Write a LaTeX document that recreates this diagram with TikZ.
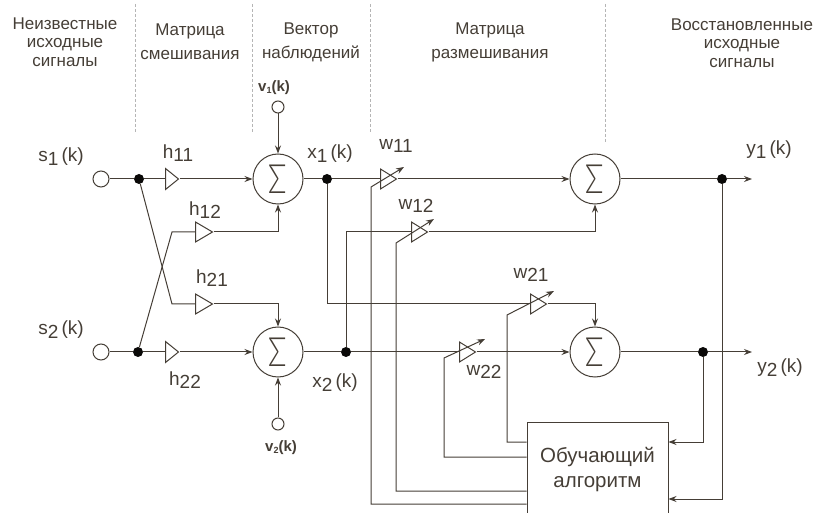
\documentclass[tikz,border=0pt]{standalone}
\usepackage{fontspec}
\setmainfont{Liberation Sans}
\newfontfamily\sigmafont{Lato Light}
\usetikzlibrary{arrows.meta,shapes.geometric}
\definecolor{ink}{HTML}{453E36}
\definecolor{sepgray}{HTML}{B5B5B5}
\newcommand{\sig}[2]{#1\raisebox{-3.5pt}{#2}}
\newcommand{\sigk}[2]{#1\raisebox{-3.5pt}{#2}\,(k)}
\newcommand{\sumsym}{\scalebox{0.85}[1.12]{Σ}}
\tikzset{
  wire/.style={draw=ink,line width=1pt},
  arrowwire/.style={wire,-{Stealth[length=8pt,width=6pt]}},
  sumnode/.style={circle,draw=ink,line width=1pt,fill=white,minimum size=50pt,inner sep=0pt,text=ink,font=\sigmafont\fontsize{36}{36}\selectfont},
  dotnode/.style={circle,fill=black!85!ink,minimum size=10pt,inner sep=0pt},
  portnode/.style={circle,draw=ink,line width=1pt,fill=white,inner sep=0pt},
  ampnode/.style={isosceles triangle,isosceles triangle stretches,draw=ink,line width=1pt,fill=white,inner sep=0pt,minimum width=20pt,minimum height=17pt,anchor=lower side},
  headnode/.style={align=center,text=ink,font=\fontsize{17}{18.5}\selectfont},
  headtwo/.style={headnode,font=\fontsize{17}{24}\selectfont},
  lblnode/.style={text=ink,inner sep=0pt,font=\fontsize{19}{19}\selectfont},
  smallnode/.style={text=ink,inner sep=0pt,font=\bfseries\fontsize{15}{15}\selectfont},
  sepline/.style={draw=sepgray,line width=0.7pt,densely dashed}
}
\begin{document}
\begin{tikzpicture}[x=1pt,y=-1pt]
\useasboundingbox (0,0) rectangle (815,513);
\clip (0,0) rectangle (815,513);
\foreach \xs/\ys in {135/133,252/133,370/133,605/143}
  \draw[sepline] (\xs,4) -- (\xs,\ys);
\node[headnode] (headsrc) at (65,42) {Неизвестные\\исходные\\сигналы};
\node[headtwo] (headmix) at (190,42) {Матрица\\смешивания};
\node[headtwo] (headobs) at (311,42) {Вектор\\наблюдений};
\node[headtwo] (headunmix) at (490,42) {Матрица\\размешивания};
\node[headnode] (headrec) at (742,43) {Восстановленные\\исходные\\сигналы};
\node[sumnode] (sum1) at (278,179) {\sumsym};
\node[sumnode] (sum2) at (278,352) {\sumsym};
\node[sumnode] (sum3) at (595,179) {\sumsym};
\node[sumnode] (sum4) at (595,352) {\sumsym};
\node[portnode,minimum size=16pt] (s1) at (101,179) {};
\node[portnode,minimum size=16pt] (s2) at (101,352) {};
\node[portnode,minimum size=12pt] (v1) at (278,107) {};
\node[portnode,minimum size=12pt] (v2) at (278,424) {};
\node[dotnode] (j1) at (139,179) {};
\node[dotnode] (j2) at (138,352) {};
\node[dotnode] (jx1) at (327,179) {};
\node[dotnode] (jx2) at (346,352) {};
\node[dotnode] (jy1) at (722,179) {};
\node[dotnode] (jy2) at (703,352) {};
\node[ampnode,minimum height=13pt,minimum width=21pt] (h11) at (165,179) {};
\node[ampnode,minimum height=13pt,minimum width=21pt] (h22) at (165,352) {};
\node[ampnode] (h12) at (195,232) {};
\node[ampnode] (h21) at (195,304) {};
\node[ampnode,minimum height=16pt] (w11) at (380,179) {};
\node[ampnode,minimum height=16pt] (w12) at (411,232) {};
\node[ampnode,minimum height=16pt] (w21) at (530,304) {};
\node[ampnode,minimum height=16pt] (w22) at (459,352) {};
\coordinate (b12) at (172,232);
\coordinate (b21) at (172,304);
\coordinate (out1) at (752,179);
\coordinate (out2) at (752,352);
\node[draw=ink,line width=1pt,minimum width=141pt,minimum height=93pt,align=center,text=ink,font=\fontsize{20.5}{25}\selectfont] (algo) at (597.5,469.5) {Обучающий\\алгоритм};
\draw[wire] (s1) -- (j1);
\draw[wire] (s2) -- (j2);
\draw[wire] (j1) -- (b21) -- (h21.lower side);
\draw[wire] (j2) -- (b12) -- (h12.lower side);
\draw[wire] (j1) -- (h11.lower side);
\draw[wire] (j2) -- (h22.lower side);
\draw[arrowwire] (h11.apex) -- (sum1.west);
\draw[arrowwire] (h22.apex) -- (sum2.west);
\draw[arrowwire] (h12.apex) -| (sum1.south);
\draw[arrowwire] (h21.apex) -| (sum2.north);
\draw[arrowwire] (v1) -- (sum1.north);
\draw[arrowwire] (v2) -- (sum2.south);
\draw[wire] (sum1.east) -- (jx1);
\draw[wire] (sum2.east) -- (jx2);
\draw[wire] (jx1) -- (w11.lower side);
\draw[wire] (jx2) -- (w22.lower side);
\draw[wire] (jx2) |- (w12.lower side);
\draw[wire] (jx1) |- (w21.lower side);
\draw[arrowwire] (w11.apex) -- (sum3.west);
\draw[arrowwire] (w22.apex) -- (sum4.west);
\draw[arrowwire] (w12.apex) -| (sum3.south);
\draw[arrowwire] (w21.apex) -| (sum4.north);
\draw[wire] (sum3.east) -- (jy1);
\draw[wire] (sum4.east) -- (jy2);
\draw[arrowwire] (jy1) -- (out1);
\draw[arrowwire] (jy2) -- (out2);
\draw[arrowwire] (jy2) |- (algo.east |- 0,442);
\draw[arrowwire] (jy1) |- (algo.east |- 0,499);
\draw[arrowwire] (algo.west |- 0,504) -| (371,187) -- (404,167);
\draw[arrowwire] (algo.west |- 0,491) -| (396,243) -- (434,219);
\draw[arrowwire] (algo.west |- 0,442) -| (507,315) -- (554,291);
\draw[arrowwire] (algo.west |- 0,457) -| (444,358) -- (485,339);
\node[lblnode] (ls1) at (61,157) {\sigk{s}{1}};
\node[lblnode] (ls2) at (61,330) {\sigk{s}{2}};
\node[lblnode] (lh11) at (178,153) {\sig{h}{11}};
\node[lblnode] (lh12) at (205,210) {\sig{h}{12}};
\node[lblnode] (lh21) at (212,278) {\sig{h}{21}};
\node[lblnode] (lh22) at (185,380) {\sig{h}{22}};
\node[lblnode] (lx1) at (330,154) {\sigk{x}{1}};
\node[lblnode] (lx2) at (335,383) {\sigk{x}{2}};
\node[lblnode] (lw11) at (396,146) {\sig{w}{11}};
\node[lblnode] (lw12) at (416,206) {\sig{w}{12}};
\node[lblnode] (lw21) at (531,275) {\sig{w}{21}};
\node[lblnode] (lw22) at (484,372) {\sig{w}{22}};
\node[lblnode] (ly1) at (769,150) {\sigk{y}{1}};
\node[lblnode] (ly2) at (780,368) {\sigk{y}{2}};
\node[smallnode] (lv1) at (274,88) {v\raisebox{-2pt}{\fontsize{9}{9}\selectfont 1}(k)};
\node[smallnode] (lv2) at (281,448) {v\raisebox{-2pt}{\fontsize{9}{9}\selectfont 2}(k)};
\end{tikzpicture}
\end{document}
